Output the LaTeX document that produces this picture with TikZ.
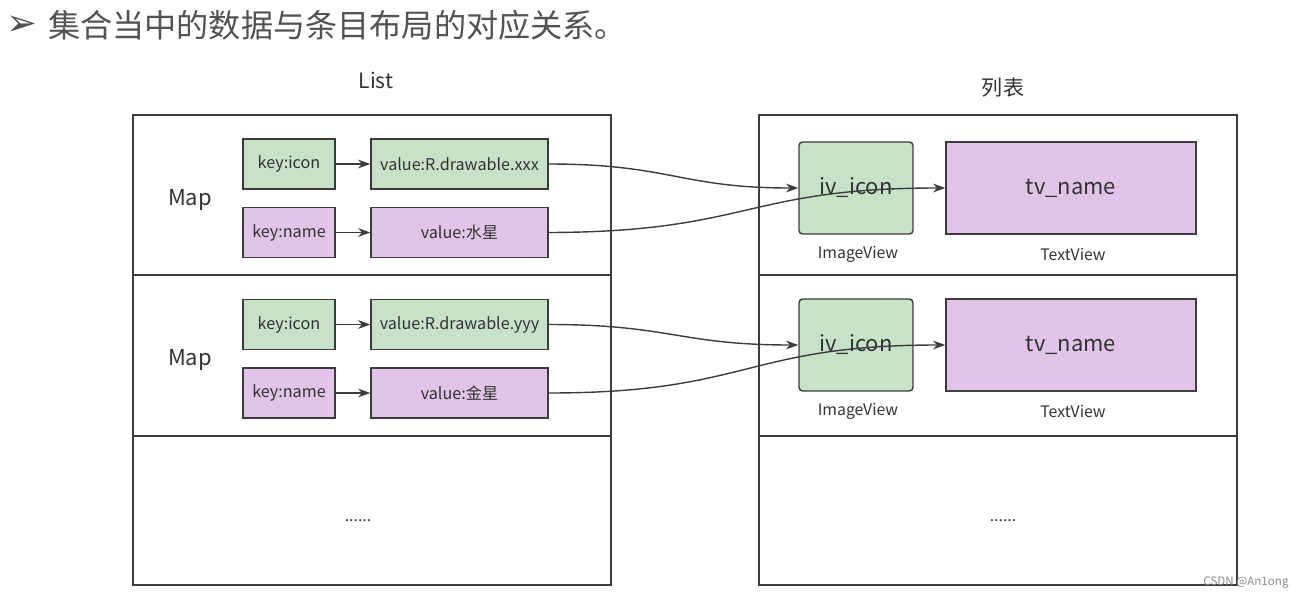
\documentclass[tikz,border=0pt]{standalone}
\usepackage{fontspec}
\setmainfont{Noto Sans CJK SC}
\newfontfamily\symfont{DejaVu Sans}
\usetikzlibrary{arrows.meta}
\definecolor{greenbox}{RGB}{200,226,202}
\definecolor{purplebox}{RGB}{225,196,232}
\definecolor{linegray}{RGB}{60,60,60}
\definecolor{textgray}{RGB}{51,51,51}
\tikzset{
  panel/.style={draw=linegray, line width=1.1pt},
  keybox/.style={draw=linegray, line width=0.8pt, minimum width=1.84cm, minimum height=1cm, inner sep=0pt, text=textgray, font=\fontsize{9.2}{11}\selectfont},
  valbox/.style={keybox, minimum width=3.54cm},
  ivbox/.style={draw=linegray, line width=0.8pt, rounded corners=2pt, fill=greenbox, minimum width=2.28cm, minimum height=1.84cm, inner sep=0pt, text=textgray, font=\fontsize{12.5}{14}\selectfont},
  tvbox/.style={ivbox, rounded corners=0pt, fill=purplebox, minimum width=5cm},
  caption/.style={text=textgray, font=\fontsize{9}{11}\selectfont},
  link/.style={draw=linegray, line width=0.8pt, -{Stealth[length=7pt,width=5pt]}}
}
\begin{document}
\begin{tikzpicture}[x=0.02cm, y=-0.02cm]
\useasboundingbox (0,0) rectangle (1303,599);
% title
\node[text=textgray!85, font=\fontsize{21}{22}\selectfont\symfont] (bullet) at (22,26) {➢};
\node[anchor=west, text=textgray!85, font=\fontsize{18.3}{20}\selectfont] (title) at (42,25) {集合当中的数据与条目布局的对应关系。};
\node[caption, font=\fontsize{12}{14}\selectfont] (listlabel) at (376,80) {List};
\node[caption, font=\fontsize{12}{14}\selectfont] (tablelabel) at (1003,88) {列表};
% panels
\draw[panel] (133,115) rectangle (611,585);
\draw[panel] (133,275) -- (611,275);
\draw[panel] (133,436) -- (611,436);
\draw[panel] (759,115) rectangle (1237,585);
\draw[panel] (759,275) -- (1237,275);
\draw[panel] (759,436) -- (1237,436);
% first map
\node[caption, font=\fontsize{12.5}{14}\selectfont] (map1) at (190,200) {Map};
\node[keybox, fill=greenbox] (kicon1) at (289,164) {key:icon};
\node[valbox, fill=greenbox] (vicon1) at (459.5,164) {value:R.drawable.xxx};
\node[keybox, fill=purplebox] (kname1) at (289,232.5) {key:name};
\node[valbox, fill=purplebox] (vname1) at (459.5,232.5) {value:水星};
\draw[link] (kicon1) -- (vicon1);
\draw[link] (kname1) -- (vname1);
% second map
\node[caption, font=\fontsize{12.5}{14}\selectfont] (map2) at (190,360) {Map};
\node[keybox, fill=greenbox] (kicon2) at (289,324.5) {key:icon};
\node[valbox, fill=greenbox] (vicon2) at (459.5,324.5) {value:R.drawable.yyy};
\node[keybox, fill=purplebox] (kname2) at (289,393) {key:name};
\node[valbox, fill=purplebox] (vname2) at (459.5,393) {value:金星};
\draw[link] (kicon2) -- (vicon2);
\draw[link] (kname2) -- (vname2);
\node[caption] (moreleft) at (358,521) {......};
% list items
\node[ivbox] (iv1) at (856,188) {iv\_icon};
\node[tvbox] (tv1) at (1071,188) {tv\_name};
\node[caption] (ivcap1) at (858,254) {ImageView};
\node[caption] (tvcap1) at (1073,254) {TextView};
\node[ivbox] (iv2) at (856,345) {iv\_icon};
\node[tvbox] (tv2) at (1071,345) {tv\_name};
\node[caption] (ivcap2) at (858,411) {ImageView};
\node[caption] (tvcap2) at (1073,411) {TextView};
\node[caption] (moreright) at (1003,521) {......};
% data to views
\draw[link] (vicon1.east) .. controls (670,164) and (680,188) .. (iv1.west);
\draw[link] (vname1.east) .. controls (750,232) and (745,188) .. (tv1.west);
\draw[link] (vicon2.east) .. controls (670,324.5) and (680,345) .. (iv2.west);
\draw[link] (vname2.east) .. controls (750,393) and (745,345) .. (tv2.west);
\node[text=black!45, font=\fontsize{6.6}{8}\selectfont] (mark) at (1246,583) {CSDN @An1ong};
\end{tikzpicture}
\end{document}
